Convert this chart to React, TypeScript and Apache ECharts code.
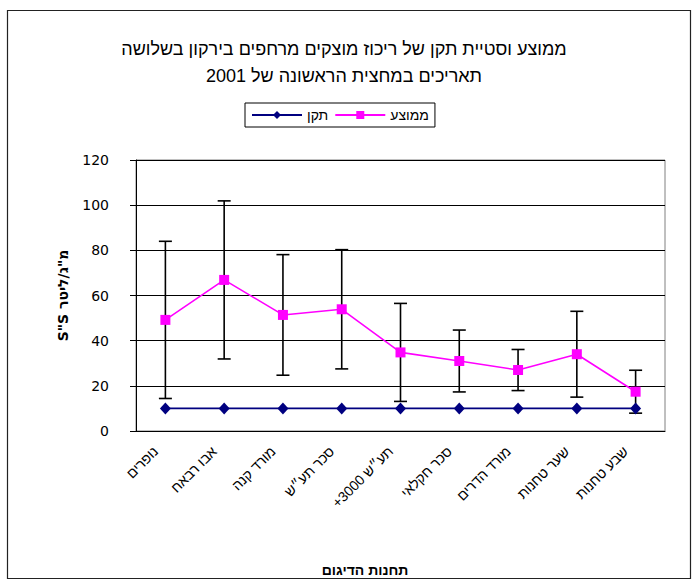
import React, { useEffect, useRef } from 'react';
import * as echarts from 'echarts';

// Sampling stations along the river (x categories)
const stations = [
  'נופרים',
  'אבו רבאח',
  'מורד קנה',
  'סכר תע״ש',
  '+3000 תע״ש',
  'סכר חקלאי',
  'מורד הדרים',
  'שער טחנות',
  'שבע טחנות',
];

// Mean suspended-solids concentration per station (mg/L)
const meanValues = [49.2, 66.9, 51.4, 53.9, 34.8, 31.0, 27.0, 34.0, 17.4];
// Standard deviation per station (error bars)
const stdValues = [34.8, 35.0, 26.7, 26.4, 21.7, 13.7, 9.1, 19.0, 9.5];
// Regulatory standard
const standardValues = [10, 10, 10, 10, 10, 10, 10, 10, 10];

const yMin = 0;
const yMax = 120;
const yStep = 20;

const titleLines = [
  'ממוצע וסטיית תקן של ריכוז מוצקים מרחפים בירקון בשלושה',
  'תאריכים במחצית הראשונה של 2001',
];
const meanName = 'ממוצע';
const standardName = 'תקן';
const xAxisTitle = 'תחנות הדיגום';
const yAxisTitle = 'S"S מ"ג/ליטר';

export default function App() {
  const ref = useRef<HTMLDivElement>(null);

  useEffect(() => {
    if (!ref.current) return;
    const chart = echarts.init(ref.current, null, { renderer: 'svg' });

    const errorData = meanValues.map((m, i) => [i, m - stdValues[i], m + stdValues[i]]);

    chart.setOption({
      animation: false,
      backgroundColor: '#ffffff',
      title: {
        text: titleLines.join('\n'),
        left: 339,
        top: 30,
        textAlign: 'center',
        textStyle: {
          fontFamily: 'Liberation Sans',
          fontSize: 18,
          fontWeight: 'normal',
          lineHeight: 27,
          color: '#000',
        },
      },
      legend: {
        data: [standardName, meanName],
        left: 245,
        top: 103,
        orient: 'horizontal',
        itemWidth: 50,
        itemHeight: 10,
        itemGap: 6,
        padding: [5, 6, 5, 6],
        borderColor: '#000',
        borderWidth: 1,
        textStyle: { fontFamily: 'Liberation Sans', fontSize: 14, color: '#000' },
      },
      grid: {
        left: 136,
        right: 34,
        top: 160,
        bottom: 150,
        show: true,
        borderColor: '#808080',
        borderWidth: 1,
        backgroundColor: '#fff',
      },
      xAxis: {
        type: 'category',
        data: stations,
        boundaryGap: true,
        axisLine: { lineStyle: { color: '#000', width: 1 } },
        axisTick: { alignWithLabel: false, length: 6, lineStyle: { color: '#000' } },
        axisLabel: {
          rotate: 45,
          interval: 0,
          fontFamily: 'Liberation Sans',
          fontSize: 14,
          color: '#000',
          margin: 8,
          padding: [0, 14, 28, 0],
        },
        splitLine: { show: false },
      },
      yAxis: {
        type: 'value',
        min: yMin,
        max: yMax,
        interval: yStep,
        name: yAxisTitle,
        nameLocation: 'middle',
        nameRotate: 90,
        nameGap: 66,
        nameTextStyle: {
          fontFamily: 'DejaVu Sans',
          fontSize: 14,
          fontWeight: 'bold',
          color: '#000',
        },
        axisLine: { show: true, lineStyle: { color: '#000', width: 1 } },
        axisTick: { show: true, length: 6, lineStyle: { color: '#000' } },
        axisLabel: { margin: 27, fontFamily: 'DejaVu Sans', fontSize: 14, color: '#000' },
        splitLine: { show: true, lineStyle: { color: '#000', width: 1 } },
      },
      graphic: [
        {
          type: 'rect',
          silent: true,
          shape: { x: 7.5, y: 10.5, width: 683, height: 568 },
          style: { fill: 'none', stroke: '#222', lineWidth: 1.2 },
          z: 0,
        },
        {
          type: 'text',
          silent: true,
          x: 365,
          y: 570,
          style: {
            text: xAxisTitle,
            align: 'center',
            verticalAlign: 'middle',
            fontFamily: 'Liberation Sans',
            fontSize: 14,
            fontWeight: 'bold',
            fill: '#000',
          },
        },
      ],
      series: [
        {
          type: 'custom',
          name: 'sd',
          data: errorData,
          encode: { x: 0, y: [1, 2] },
          z: 1,
          renderItem: (params: any, api: any) => {
            const idx = api.value(0);
            const lo = api.coord([idx, api.value(1)]);
            const hi = api.coord([idx, api.value(2)]);
            const w = 6.5;
            const style = { stroke: '#000', lineWidth: 1.6 };
            return {
              type: 'group',
              children: [
                { type: 'line', shape: { x1: lo[0], y1: lo[1], x2: hi[0], y2: hi[1] }, style },
                { type: 'line', shape: { x1: hi[0] - w, y1: hi[1], x2: hi[0] + w, y2: hi[1] }, style },
                { type: 'line', shape: { x1: lo[0] - w, y1: lo[1], x2: lo[0] + w, y2: lo[1] }, style },
              ],
            };
          },
        },
        {
          type: 'line',
          name: meanName,
          data: meanValues,
          symbol: 'rect',
          symbolSize: 10,
          z: 3,
          itemStyle: { color: '#FF00FF' },
          lineStyle: { color: '#FF00FF', width: 1.6 },
        },
        {
          type: 'line',
          name: standardName,
          data: standardValues,
          symbol: 'diamond',
          symbolSize: [11, 12],
          z: 3,
          itemStyle: { color: '#000080' },
          lineStyle: { color: '#000080', width: 1.6 },
        },
      ],
    });

    return () => chart.dispose();
  }, []);

  return (
    <div
      ref={ref}
      style={{ position: 'fixed', left: 0, top: 0, width: 699, height: 581 }}
    />
  );
}
